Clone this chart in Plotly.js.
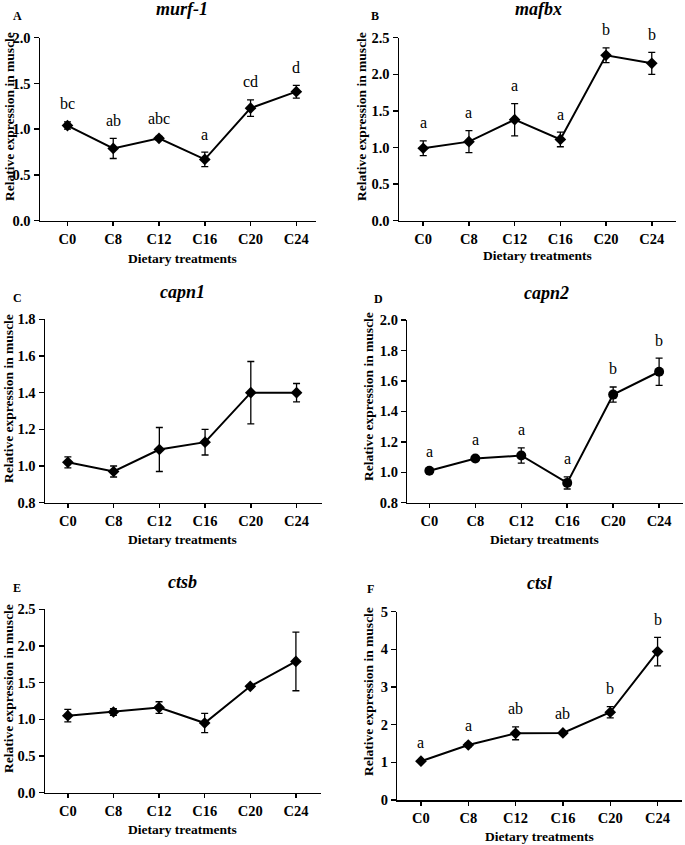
<!DOCTYPE html>
<html>
<head>
<meta charset="utf-8">
<script src="https://cdn.plot.ly/plotly-3.0.1.min.js"></script>
<style>html,body{margin:0;padding:0;background:#fff;}#chart{width:685px;height:845px;}</style>
</head>
<body>
<div id="chart"></div>
<script>
// ---- data ----
const categories = ['C0','C8','C12','C16','C20','C24'];

const murf1Mean = [1.04, 0.79, 0.90, 0.67, 1.23, 1.41];
const murf1Err  = [0.04, 0.11, 0.02, 0.08, 0.09, 0.07];
const murf1Letters = ['bc','ab','abc','a','cd','d'];

const mafbxMean = [0.99, 1.08, 1.38, 1.11, 2.26, 2.15];
const mafbxErr  = [0.10, 0.15, 0.22, 0.10, 0.10, 0.15];
const mafbxLetters = ['a','a','a','a','b','b'];

const capn1Mean = [1.02, 0.97, 1.09, 1.13, 1.40, 1.40];
const capn1Err  = [0.03, 0.03, 0.12, 0.07, 0.17, 0.05];

const capn2Mean = [1.01, 1.09, 1.11, 0.93, 1.51, 1.66];
const capn2Err  = [0.01, 0.01, 0.05, 0.04, 0.05, 0.09];
const capn2Letters = ['a','a','a','a','b','b'];

const ctsbMean = [1.05, 1.10, 1.16, 0.95, 1.45, 1.79];
const ctsbErr  = [0.085, 0.045, 0.08, 0.13, 0.02, 0.40];

const ctslMean = [1.03, 1.46, 1.77, 1.78, 2.33, 3.94];
const ctslErr  = [0.03, 0.05, 0.17, 0.03, 0.15, 0.38];
const ctslLetters = ['a','a','ab','ab','b','b'];

const yTitleText = 'Relative expression in muscle';
const xTitleText = 'Dietary treatments';

// ---- layout config (pixels in a 685x845 page) ----
const W = 685, H = 845;
const FONT = '"Liberation Serif", "Times New Roman", serif';
const panels = [
  {name:'murf-1', label:'A', mean:murf1Mean, err:murf1Err, letters:murf1Letters, symbol:'diamond', msize:9,
   box:[40,316,37.7,220.7], yr:[0,2], dtick:0.5, fmt:'.1f', xr:[-0.6,5.43],
   titlePos:[182,9], labelPos:[17,16], yTitlePos:[10,117], xTitlePos:[183,258]},
  {name:'mafbx', label:'B', mean:mafbxMean, err:mafbxErr, letters:mafbxLetters, symbol:'diamond', msize:9,
   box:[399,676,37.7,220.7], yr:[0,2.5], dtick:0.5, fmt:'.1f', xr:[-0.53,5.53],
   titlePos:[538,9], labelPos:[375,16], yTitlePos:[362,117], xTitlePos:[537,256]},
  {name:'capn1', label:'C', mean:capn1Mean, err:capn1Err, letters:null, symbol:'diamond', msize:9,
   box:[45,321.7,319.3,502.7], yr:[0.8,1.8], dtick:0.2, fmt:'.1f', xr:[-0.5,5.55],
   titlePos:[182,292], labelPos:[17,298], yTitlePos:[8,399], xTitlePos:[183,539]},
  {name:'capn2', label:'D', mean:capn2Mean, err:capn2Err, letters:capn2Letters, symbol:'circle', msize:10,
   box:[407.3,683,320,502.7], yr:[0.8,2.0], dtick:0.2, fmt:'.1f', xr:[-0.48,5.52],
   titlePos:[546,293], labelPos:[379,299], yTitlePos:[368,397], xTitlePos:[544,539]},
  {name:'ctsb', label:'E', mean:ctsbMean, err:ctsbErr, letters:null, symbol:'diamond', msize:9,
   box:[45,321,609.3,792.7], yr:[0,2.5], dtick:0.5, fmt:'.1f', xr:[-0.5,5.55],
   titlePos:[182,582], labelPos:[17,588], yTitlePos:[8,689], xTitlePos:[183,829]},
  {name:'ctsl', label:'F', mean:ctslMean, err:ctslErr, letters:ctslLetters, symbol:'diamond', msize:9,
   box:[397.3,681.7,611.7,800], yr:[0,5], dtick:1, fmt:'d', xr:[-0.5,5.51],
   titlePos:[539,583], labelPos:[370,589], yTitlePos:[368,692], xTitlePos:[539,836]}
];

const fx = p => p / W;
const fy = p => 1 - p / H;

const traces = [];
const annotations = [];
const layout = {
  width: W, height: H,
  margin: {l:0, r:0, t:0, b:0},
  paper_bgcolor: '#fff', plot_bgcolor: '#fff',
  showlegend: false,
  font: {family: FONT, color: '#000'}
};

panels.forEach((p, i) => {
  const n = i + 1;
  const xa = 'x' + (n === 1 ? '' : n), ya = 'y' + (n === 1 ? '' : n);
  traces.push({
    type: 'scatter', mode: 'lines+markers',
    x: categories, y: p.mean,
    xaxis: xa, yaxis: ya,
    line: {color: '#000', width: 2},
    marker: {symbol: p.symbol, size: p.msize, color: '#000'},
    error_y: {type: 'data', array: p.err, visible: true, color: '#000', thickness: 1.3, width: 3.5},
    cliponaxis: false
  });
  const xk = 'xaxis' + (n === 1 ? '' : n), yk = 'yaxis' + (n === 1 ? '' : n);
  layout[xk] = {
    domain: [fx(p.box[0]), fx(p.box[1])],
    anchor: ya, type: 'category', range: p.xr,
    showline: true, linecolor: '#000', linewidth: 1.5,
    ticks: 'outside', ticklen: 4, tickwidth: 1.5, tickcolor: '#000',
    showgrid: false, zeroline: false, fixedrange: true,
    tickfont: {family: FONT, size: 14.5, color: '#000', weight: 'bold'},
    ticklabelstandoff: 0
  };
  layout[yk] = {
    domain: [fy(p.box[3]), fy(p.box[2])],
    anchor: xa, range: p.yr, dtick: p.dtick, tick0: p.yr[0], tickformat: p.fmt,
    showline: true, linecolor: '#000', linewidth: 1.5,
    ticks: 'outside', ticklen: 5, tickwidth: 1.5, tickcolor: '#000',
    showgrid: false, zeroline: false, fixedrange: true,
    tickfont: {family: FONT, size: 14.5, color: '#000', weight: 'bold'}
  };
  // gene title
  annotations.push({xref:'paper', yref:'paper', x: fx(p.titlePos[0]), y: fy(p.titlePos[1]),
    xanchor:'center', yanchor:'middle', showarrow:false, text:'<b><i>' + p.name + '</i></b>',
    font:{family:FONT, size:18, color:'#000'}});
  // panel label
  annotations.push({xref:'paper', yref:'paper', x: fx(p.labelPos[0]), y: fy(p.labelPos[1]),
    xanchor:'center', yanchor:'middle', showarrow:false, text:'<b>' + p.label + '</b>',
    font:{family:FONT, size:12, color:'#000'}});
  // y title
  annotations.push({xref:'paper', yref:'paper', x: fx(p.yTitlePos[0]), y: fy(p.yTitlePos[1]),
    xanchor:'center', yanchor:'middle', showarrow:false, textangle:-90, text:'<b>' + yTitleText + '</b>',
    font:{family:FONT, size:13.5, color:'#000'}});
  // x title
  annotations.push({xref:'paper', yref:'paper', x: fx(p.xTitlePos[0]), y: fy(p.xTitlePos[1]),
    xanchor:'center', yanchor:'middle', showarrow:false, text:'<b>' + xTitleText + '</b>',
    font:{family:FONT, size:13.5, color:'#000'}});
  // significance letters
  if (p.letters) {
    p.letters.forEach((t, j) => {
      annotations.push({xref: xa, yref: ya, x: categories[j], y: p.mean[j] + p.err[j],
        xanchor:'center', yanchor:'middle', yshift: 18, showarrow:false, text: t,
        font:{family:FONT, size:16, color:'#000'}});
    });
  }
});
layout.annotations = annotations;

Plotly.newPlot('chart', traces, layout, {staticPlot: true, displayModeBar: false});
</script>
</body>
</html>
